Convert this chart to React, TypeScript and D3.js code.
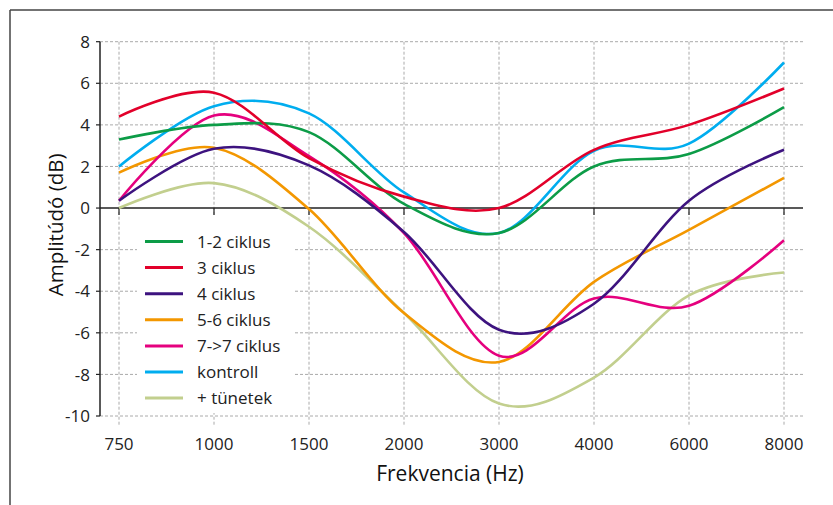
import * as d3 from "d3";

const W = 833;
const H = 505;

const categories = ["750", "1000", "1500", "2000", "3000", "4000", "6000", "8000"];
const yTicks = [8, 6, 4, 2, 0, -2, -4, -6, -8, -10];

const c12 = [3.3, 4.0, 3.65, 0.2, -1.2, 2.0, 2.6, 4.85];
const c3 = [4.4, 5.55, 2.4, 0.55, 0.0, 2.8, 4.0, 5.75];
const c4 = [0.35, 2.85, 2.05, -1.15, -5.85, -4.6, 0.35, 2.8];
const c56 = [1.7, 2.9, -0.05, -5.05, -7.4, -3.55, -1.05, 1.45];
const c7 = [0.35, 4.45, 2.5, -1.2, -7.1, -4.35, -4.7, -1.55];
const kontroll = [2.0, 4.9, 4.55, 0.75, -1.2, 2.75, 3.1, 7.0];
const tunetek = [0.0, 1.2, -0.9, -5.05, -9.4, -8.15, -4.2, -3.1];

const seriesNames = ["1-2 ciklus", "3 ciklus", "4 ciklus", "5-6 ciklus", "7->7 ciklus", "kontroll", "+ tünetek"];
const seriesValues = [c12, c3, c4, c56, c7, kontroll, tunetek];
const colors = ["#0c9c47", "#e2002a", "#3d137f", "#f39700", "#e5007e", "#00adef", "#c2cf8e"];

const FONT = "'Open Sans', 'Noto Sans', sans-serif";

export default function App() {
  const x = d3.scalePoint<string>().domain(categories).range([100, 803]).padding(0.2);
  const y = d3.scaleLinear().domain([-10, 8]).range([416, 41.7]);

  const line = d3
    .line<number>()
    .x((_, i) => x(categories[i]) as number)
    .y((d) => y(d))
    .curve(d3.curveCardinal.tension(0));

  // drawing order: light ones below
  const order = [6, 5, 3, 4, 2, 0, 1];

  return (
    <svg
      width={W}
      height={H}
      style={{ position: "absolute", left: 0, top: 0, background: "#fff" }}
      fontFamily={FONT}
    >
      {/* frame */}
      <line x1={10} y1={10} x2={W} y2={10} stroke="#444" strokeWidth={1.5} />
      <line x1={10} y1={10} x2={10} y2={H} stroke="#444" strokeWidth={1.5} />

      {/* grid */}
      {yTicks
        .filter((t) => t !== 0)
        .map((t) => (
          <line key={"h" + t} x1={100} x2={803} y1={y(t)} y2={y(t)} stroke="#aaa" strokeDasharray="3,2" />
        ))}
      {categories.map((c) => (
        <line key={"v" + c} x1={x(c)} x2={x(c)} y1={y(8)} y2={426} stroke="#aaa" strokeDasharray="3,2" />
      ))}

      {/* y axis */}
      <line x1={100} x2={100} y1={y(8)} y2={y(-10)} stroke="#222" strokeWidth={1.5} />
      {yTicks.map((t) => (
        <g key={"yt" + t}>
          <line x1={96} x2={100} y1={y(t)} y2={y(t)} stroke="#222" strokeWidth={1.2} />
          <text x={90} y={y(t)} dy="0.36em" textAnchor="end" fontSize={17} fill="#222">
            {t}
          </text>
        </g>
      ))}

      {/* zero axis */}
      <line x1={100} x2={803} y1={y(0)} y2={y(0)} stroke="#222" strokeWidth={1.5} />
      {categories.map((c) => (
        <line key={"xt" + c} x1={x(c)} x2={x(c)} y1={y(0)} y2={y(0) + 7} stroke="#222" strokeWidth={1.2} />
      ))}
      {categories.map((c) => (
        <text key={"xl" + c} x={x(c)} y={450} textAnchor="middle" fontSize={17} fill="#222">
          {c}
        </text>
      ))}

      {/* axis titles */}
      <text x={450} y={481} textAnchor="middle" fontSize={21} fill="#111">
        Frekvencia (Hz)
      </text>
      <text
        transform={`translate(63,${(y(8) + y(-10)) / 2 - 4}) rotate(-90)`}
        textAnchor="middle"
        fontSize={20.5}
        fill="#111"
      >
        Amplitúdó (dB)
      </text>

      {/* legend background */}
      <rect x={137} y={215} width={156} height={198} fill="#fff" />

      {/* series */}
      {order.map((i) => (
        <path
          key={"s" + i}
          d={line(seriesValues[i]) || ""}
          fill="none"
          stroke={colors[i]}
          strokeWidth={2.6}
          strokeLinejoin="round"
        />
      ))}

      {/* legend */}
      {seriesNames.map((n, i) => {
        const ly = 241.5 + i * 26.1;
        return (
          <g key={"lg" + i}>
            <line x1={145} x2={183} y1={ly} y2={ly} stroke={colors[i]} strokeWidth={3} />
            <text x={197} y={ly} dy="0.36em" fontSize={17} fill="#222">
              {n}
            </text>
          </g>
        );
      })}
    </svg>
  );
}
